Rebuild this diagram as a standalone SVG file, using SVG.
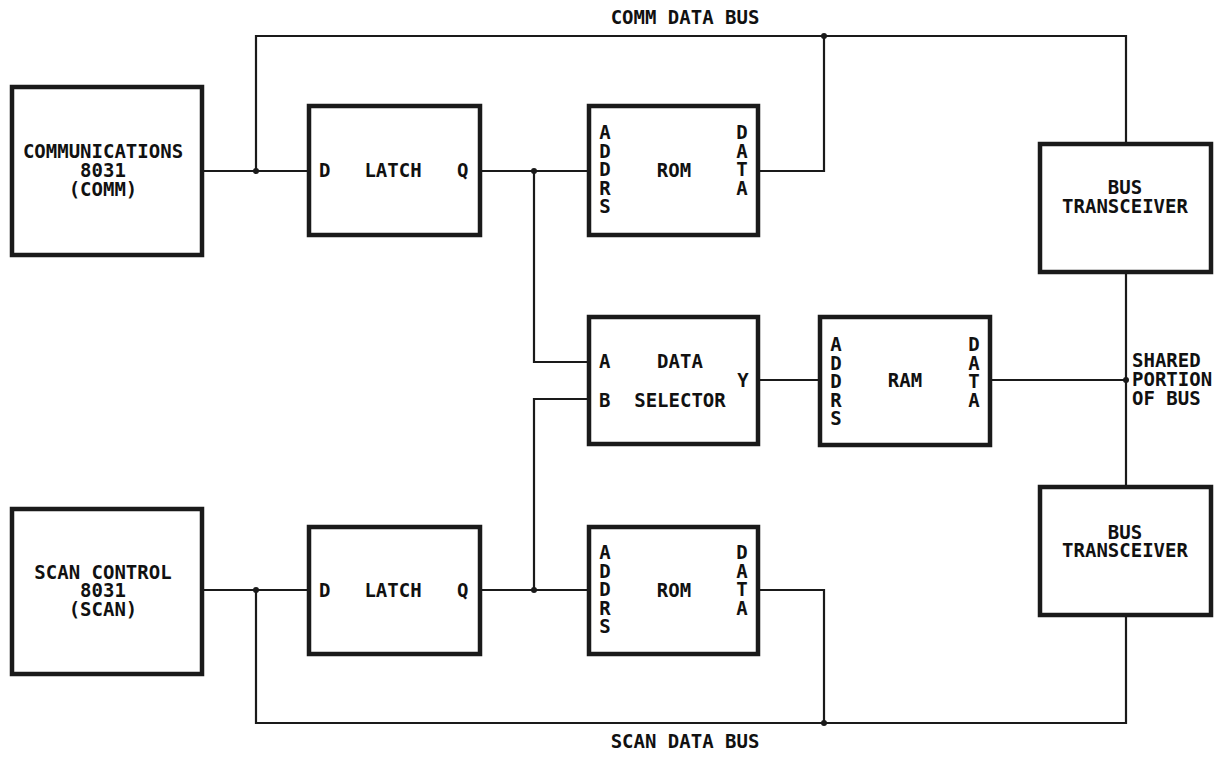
<svg xmlns="http://www.w3.org/2000/svg" width="1220" height="757" viewBox="0 0 1220 757">
<style>
.box{fill:#fff;stroke:#1a1a1a;stroke-width:4.5}
.w{fill:none;stroke:#1a1a1a;stroke-width:2.2;stroke-linejoin:miter}
.dot{fill:#1a1a1a}
text{font-family:"DejaVu Sans Mono","Liberation Mono",monospace;font-size:19px;font-weight:bold;fill:#111}
.c{text-anchor:middle}
</style>
<rect width="1220" height="757" fill="#fff"/>
<g id="connectors">
<path class="w" d="M204 171H307M256 171V36H1126V142M482 171H587M534 171V362H587M760 171H824V36"/>
<path class="w" d="M1126 274V485M992 380H1126M760 380H818"/>
<path class="w" d="M204 590H307M256 590V723H1126V617M482 590H587M534 590V399H587M760 590H824V723"/>
<circle class="dot" cx="256" cy="171" r="3"/>
<circle class="dot" cx="534" cy="171" r="3"/>
<circle class="dot" cx="824" cy="36" r="3"/>
<circle class="dot" cx="1126" cy="380" r="3"/>
<circle class="dot" cx="256" cy="590" r="3"/>
<circle class="dot" cx="534" cy="590" r="3"/>
<circle class="dot" cx="824" cy="723" r="3"/>
</g>
<g id="labels">
<text class="c" x="685" y="24">COMM DATA BUS</text>
<text class="c" x="685" y="748">SCAN DATA BUS</text>
<text x="1132" y="367">SHARED</text>
<text x="1132" y="386">PORTION</text>
<text x="1132" y="405">OF BUS</text>
</g>
<g id="comm">
<rect class="box" x="12" y="87" width="190" height="168"/>
<text class="c" x="103" y="158">COMMUNICATIONS</text>
<text class="c" x="103" y="177">8031</text>
<text class="c" x="103" y="196">(COMM)</text>
</g>
<g id="latch1">
<rect class="box" x="309" y="106" width="171" height="129"/>
<text x="319" y="177">D</text>
<text class="c" x="393" y="177">LATCH</text>
<text x="457" y="177">Q</text>
</g>
<g id="rom1">
<rect class="box" x="589" y="106" width="169" height="129"/>
<text class="c" x="674" y="177">ROM</text>
<text class="c" x="605" y="139">A<tspan x="605" dy="18.5">D</tspan><tspan x="605" dy="18.5">D</tspan><tspan x="605" dy="18.5">R</tspan><tspan x="605" dy="18.5">S</tspan></text>
<text class="c" x="742" y="139">D<tspan x="742" dy="18.5">A</tspan><tspan x="742" dy="18.5">T</tspan><tspan x="742" dy="18.5">A</tspan></text>
</g>
<g id="selector">
<rect class="box" x="589" y="317" width="169" height="127"/>
<text x="599" y="368">A</text>
<text x="599" y="407">B</text>
<text class="c" x="680" y="368">DATA</text>
<text class="c" x="680" y="407">SELECTOR</text>
<text class="c" x="743" y="387">Y</text>
</g>
<g id="ram">
<rect class="box" x="820" y="317" width="170" height="128"/>
<text class="c" x="905" y="387">RAM</text>
<text class="c" x="836" y="351">A<tspan x="836" dy="18.5">D</tspan><tspan x="836" dy="18.5">D</tspan><tspan x="836" dy="18.5">R</tspan><tspan x="836" dy="18.5">S</tspan></text>
<text class="c" x="974" y="351">D<tspan x="974" dy="18.5">A</tspan><tspan x="974" dy="18.5">T</tspan><tspan x="974" dy="18.5">A</tspan></text>
</g>
<g id="transceiver1">
<rect class="box" x="1040" y="144" width="171" height="128"/>
<text class="c" x="1125" y="194">BUS</text>
<text class="c" x="1125" y="213">TRANSCEIVER</text>
</g>
<g id="transceiver2">
<rect class="box" x="1040" y="487" width="171" height="128"/>
<text class="c" x="1125" y="539">BUS</text>
<text class="c" x="1125" y="557">TRANSCEIVER</text>
</g>
<g id="scan">
<rect class="box" x="12" y="509" width="190" height="165"/>
<text class="c" x="103" y="579">SCAN CONTROL</text>
<text class="c" x="103" y="597">8031</text>
<text class="c" x="103" y="616">(SCAN)</text>
</g>
<g id="latch2">
<rect class="box" x="309" y="527" width="171" height="127"/>
<text x="319" y="597">D</text>
<text class="c" x="393" y="597">LATCH</text>
<text x="457" y="597">Q</text>
</g>
<g id="rom2">
<rect class="box" x="589" y="527" width="169" height="127"/>
<text class="c" x="674" y="597">ROM</text>
<text class="c" x="605" y="559">A<tspan x="605" dy="18.5">D</tspan><tspan x="605" dy="18.5">D</tspan><tspan x="605" dy="18.5">R</tspan><tspan x="605" dy="18.5">S</tspan></text>
<text class="c" x="742" y="559">D<tspan x="742" dy="18.5">A</tspan><tspan x="742" dy="18.5">T</tspan><tspan x="742" dy="18.5">A</tspan></text>
</g>
</svg>
